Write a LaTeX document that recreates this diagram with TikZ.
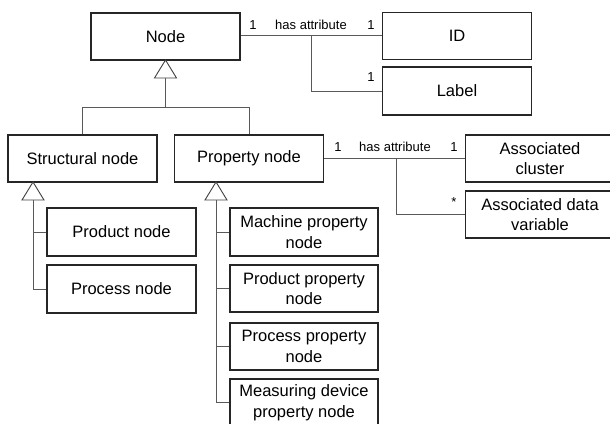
\documentclass[tikz,border=0pt]{standalone}
\usepackage{fontspec}
\setmainfont{Liberation Sans}
\begin{document}
\begin{tikzpicture}[x=1pt,y=-1pt,
  box/.style={draw=black!85,line width=1.1pt,fill=white,rectangle,inner sep=0pt,
    minimum width=149pt,minimum height=47pt,align=center,
    font=\fontsize{16.5}{20.5}\selectfont},
  conn/.style={draw=black!65,line width=0.8pt},
  gen/.style={draw=black!75,line width=0.9pt,fill=white},
  lbl/.style={font=\fontsize{13}{15}\selectfont,inner sep=0pt}]
\useasboundingbox (0,0) rectangle (610,423);
% boxes
\node[box] (node) at (165.5,36.5) {Node};
\node[box] (id) at (457,36) {ID};
\node[box,minimum height=48pt] (label) at (457,91) {Label};
\node[box] (struct) at (82.5,158.5) {Structural node};
\node[box] (prop) at (249,158.5) {Property node};
\node[box] (cluster) at (540,158.5) {Associated\\cluster};
\node[box] (datavar) at (540,214.5) {Associated data\\variable};
\node[box,minimum height=48pt] (product) at (121.5,232) {Product node};
\node[box,minimum height=48pt] (process) at (121.5,289) {Process node};
\node[box,minimum width=148pt,minimum height=48pt] (mach) at (304,232) {Machine property\\node};
\node[box,minimum width=148pt] (prodprop) at (304,288.5) {Product property\\node};
\node[box,minimum width=148pt] (procprop) at (304,346.5) {Process property\\node};
\node[box,minimum width=148pt] (meas) at (304,402.5) {Measuring device\\property node};
% associations
\coordinate (j1) at (311,35);
\draw[conn] (node.east |- j1) -- (id.west |- j1);
\draw[conn] (j1) |- (label.west);
\node[lbl] (m1) at (253,25) {1};
\node[lbl] (h1) at (311,25) {has attribute};
\node[lbl] (m2) at (371,25) {1};
\node[lbl] (m3) at (371,77) {1};
\coordinate (j2) at (396,158);
\draw[conn] (prop.east |- j2) -- (cluster.west |- j2);
\draw[conn] (j2) |- (datavar.west);
\node[lbl] (m4) at (338,147) {1};
\node[lbl] (h2) at (395,147) {has attribute};
\node[lbl] (m5) at (454,147) {1};
\node[lbl] (m6) at (454,202) {*};
% generalization Node
\coordinate (t0) at (165.5,60);
\coordinate (b0) at (165.5,78);
\coordinate (bar) at (165.5,107);
\draw[conn] (b0) -- (b0 |- bar);
\draw[conn] (struct.north) -- (struct.north |- bar) -- (prop.north |- bar) -- (prop.north);
\draw[gen] (t0) -- ([xshift=-11pt]b0) -- ([xshift=11pt]b0) -- cycle;
% generalization Structural
\coordinate (t1) at (33,182);
\coordinate (b1) at (33,200);
\draw[conn] (b1) -- (b1 |- process.west) -- (process.west);
\draw[conn] (b1 |- product.west) -- (product.west);
\draw[gen] (t1) -- ([xshift=-11pt]b1) -- ([xshift=11pt]b1) -- cycle;
% generalization Property
\coordinate (t2) at (216,182);
\coordinate (b2) at (216,200);
\draw[conn] (b2) -- (b2 |- meas.west) -- (meas.west);
\draw[conn] (b2 |- mach.west) -- (mach.west);
\draw[conn] (b2 |- prodprop.west) -- (prodprop.west);
\draw[conn] (b2 |- procprop.west) -- (procprop.west);
\draw[gen] (t2) -- ([xshift=-11pt]b2) -- ([xshift=11pt]b2) -- cycle;
\end{tikzpicture}
\end{document}
